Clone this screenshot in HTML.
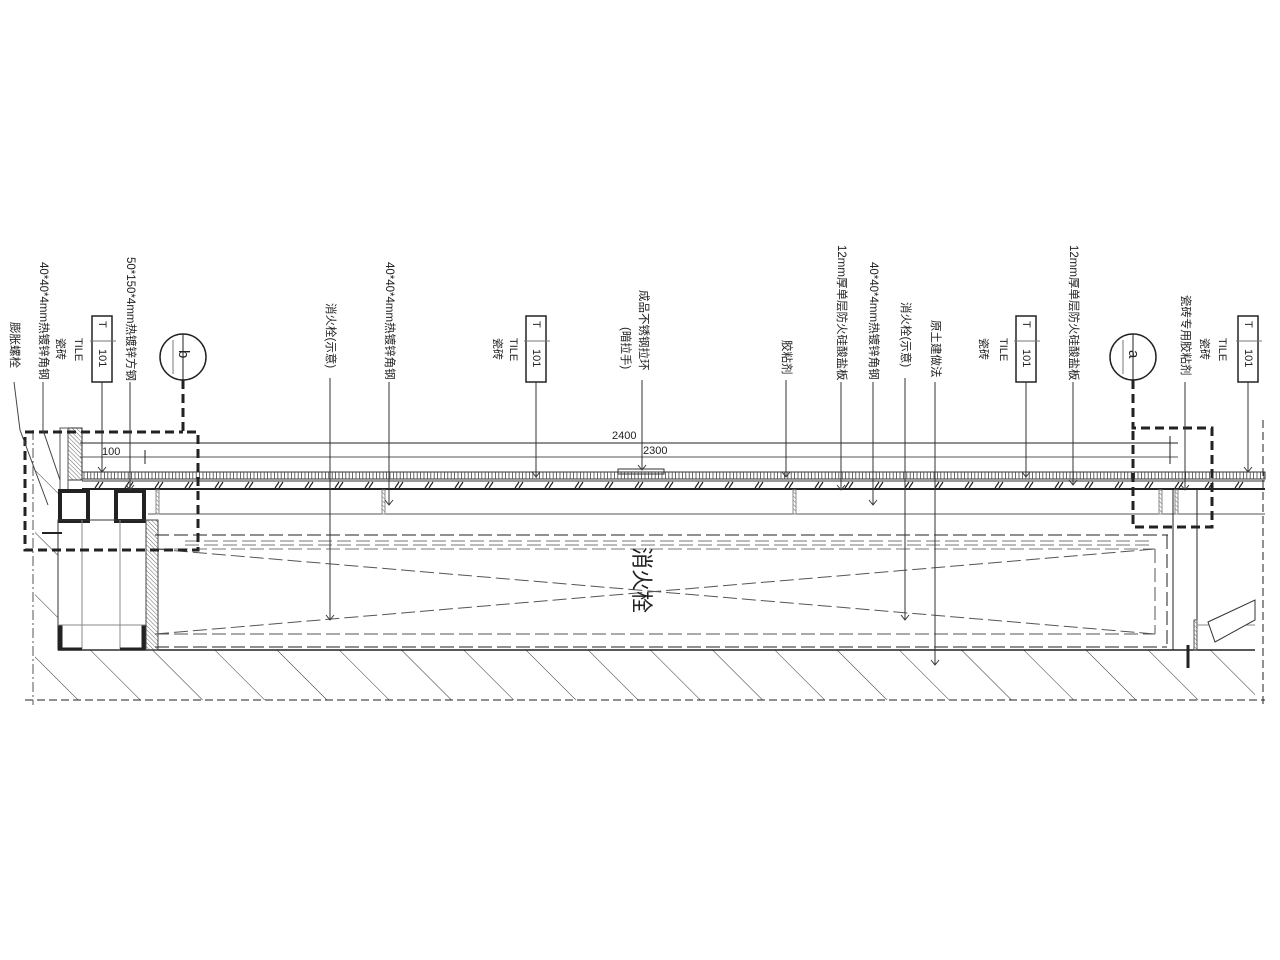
<!DOCTYPE html>
<html><head><meta charset="utf-8">
<style>
html,body{margin:0;padding:0;background:#fff;}
svg{display:block;}
text{font-family:"Liberation Sans","Noto Sans CJK SC",sans-serif;fill:#222;}
</style></head>
<body>
<svg id="s" width="1280" height="960" viewBox="0 0 1280 960" xmlns="http://www.w3.org/2000/svg">
<defs>
<pattern id="hatch" width="44" height="44" patternUnits="userSpaceOnUse" patternTransform="rotate(-45)">
<line x1="0" y1="0" x2="0" y2="44" stroke="#333" stroke-width="1"/>
</pattern>
<pattern id="dense" width="3" height="3" patternUnits="userSpaceOnUse" patternTransform="rotate(-45)">
<line x1="0" y1="0" x2="0" y2="3" stroke="#444" stroke-width="0.8"/>
</pattern>
</defs>
<g id="g" stroke="#222" fill="none" stroke-width="1">
<rect x="58" y="650" width="1197" height="50" fill="url(#hatch)" stroke="none"/>
<line x1="58" y1="650" x2="1255" y2="650" stroke-width="1.5"/>
<line x1="25" y1="700" x2="1265" y2="700" stroke-dasharray="8,4"/>
<rect x="35" y="432" width="23" height="268" fill="url(#hatch)" stroke="none"/>
<line x1="33" y1="430" x2="33" y2="705" stroke-dasharray="10,3,2,3" stroke="#555"/>
<rect x="68" y="428" width="14" height="52" fill="url(#dense)" stroke="#333"/>
<rect x="60" y="428" width="8" height="62" stroke="#555"/>
<rect x="60" y="491" width="28" height="30" stroke-width="4"/>
<rect x="116" y="491" width="28" height="30" stroke-width="4"/>
<rect x="58" y="520" width="88" height="130" stroke="#333"/>
<line x1="82" y1="520" x2="82" y2="650" stroke="#888"/>
<line x1="120" y1="520" x2="120" y2="650" stroke="#888"/>
<line x1="58" y1="625" x2="146" y2="625" stroke="#888"/>
<rect x="58" y="626" width="4" height="22" fill="#222"/>
<rect x="142" y="626" width="4" height="22" fill="#222"/>
<line x1="58" y1="649" x2="82" y2="649" stroke-width="3"/>
<line x1="120" y1="649" x2="146" y2="649" stroke-width="3"/>
<rect x="146" y="520" width="12" height="130" fill="url(#dense)" stroke="#444"/>
<line x1="42" y1="533" x2="62" y2="533" stroke-width="2"/>
<rect x="82" y="472" width="1183" height="7" fill="none" stroke="#333"/>
<g id="ticks" stroke="#444" stroke-width="0.8"></g>
<line x1="82" y1="481" x2="1265" y2="481" stroke="#333"/>
<line x1="82" y1="489" x2="1265" y2="489" stroke-width="2"/>
<g id="hat" stroke="#222" stroke-width="1.2"></g>
<line x1="148" y1="514" x2="1265" y2="514" stroke="#555"/>
<rect x="156" y="490" width="3" height="24" fill="url(#dense)" stroke="#888"/>
<rect x="382" y="490" width="3" height="24" fill="url(#dense)" stroke="#888"/>
<rect x="793" y="490" width="3" height="24" fill="url(#dense)" stroke="#888"/>
<rect x="1159" y="490" width="3" height="24" fill="url(#dense)" stroke="#888"/>
<rect x="1175" y="490" width="3" height="24" fill="url(#dense)" stroke="#888"/>
<rect x="618" y="469" width="46" height="5" stroke="#333"/>
<line x1="155" y1="535" x2="1168" y2="535" stroke-dasharray="14,5"/>
<line x1="185" y1="541" x2="1150" y2="541" stroke="#777" stroke-dasharray="14,5"/>
<line x1="185" y1="545" x2="1150" y2="545" stroke="#777" stroke-dasharray="14,5"/>
<line x1="155" y1="549" x2="1155" y2="549" stroke="#777" stroke-dasharray="14,5"/>
<line x1="1155" y1="549" x2="1155" y2="634" stroke="#555" stroke-dasharray="14,5"/>
<line x1="1167" y1="535" x2="1167" y2="647" stroke-dasharray="14,5"/>
<line x1="155" y1="634" x2="1155" y2="634" stroke="#555" stroke-dasharray="14,5"/>
<line x1="155" y1="647" x2="1167" y2="647" stroke-dasharray="14,5"/>
<line x1="155" y1="549" x2="1155" y2="634" stroke="#555" stroke-dasharray="14,5"/>
<line x1="155" y1="634" x2="1155" y2="549" stroke="#555" stroke-dasharray="14,5"/>
<line x1="1173" y1="490" x2="1173" y2="650"/>
<line x1="1197" y1="490" x2="1197" y2="650"/>
<rect x="1194" y="620" width="3" height="30" fill="url(#dense)" stroke="#555"/>
<line x1="1197" y1="625" x2="1255" y2="625" stroke="#888"/>
<polygon points="1208,622 1255,600 1255,620 1215,642" stroke="#333" fill="#fff"/>
<line x1="1188" y1="645" x2="1188" y2="668" stroke-width="3"/>
<line x1="1263" y1="420" x2="1263" y2="705" stroke-dasharray="8,4"/>
<line x1="80" y1="443" x2="1178" y2="443"/>
<line x1="80" y1="457" x2="1178" y2="457" stroke="#555"/>
<line x1="145" y1="450" x2="145" y2="464"/>
<line x1="1170" y1="436" x2="1170" y2="450"/>
<line x1="1170" y1="450" x2="1170" y2="464"/>
<path d="M183,380 V432 H198 V550 H25 V432 H183" stroke-width="3" stroke-dasharray="9,5"/>
<path d="M1133,380 V428 H1212 V527 H1133 V428" stroke-width="3" stroke-dasharray="9,5"/>
<circle cx="183" cy="357" r="23" stroke-width="1.5"/>
<line x1="183" y1="334" x2="183" y2="380"/>
<line x1="173" y1="340" x2="173" y2="374" stroke="#777"/>
<circle cx="1133" cy="357" r="23" stroke-width="1.5"/>
<line x1="1133" y1="334" x2="1133" y2="380"/>
<line x1="1123" y1="340" x2="1123" y2="374" stroke="#777"/>
<rect x="92" y="316" width="20" height="66" stroke-width="1.5"/><line x1="90" y1="341" x2="116" y2="341" stroke="#777"/>
<rect x="526" y="316" width="20" height="66" stroke-width="1.5"/><line x1="524" y1="341" x2="550" y2="341" stroke="#777"/>
<rect x="1016" y="316" width="20" height="66" stroke-width="1.5"/><line x1="1014" y1="341" x2="1040" y2="341" stroke="#777"/>
<rect x="1238" y="316" width="20" height="66" stroke-width="1.5"/><line x1="1236" y1="341" x2="1262" y2="341" stroke="#777"/>
<g id="lead"></g>
<path d="M14,382 L20,430 L48,505" stroke="#444"/>
<path d="M43,382 L43,430 L60,480" stroke="#444"/>
</g>
<g id="txt" font-size="11"></g>
<text x="102" y="455" font-size="11">100</text>
<text x="612" y="439" font-size="11">2400</text>
<text x="643" y="454" font-size="11">2300</text>
<text x="640" y="580" font-size="22" transform="rotate(90 640 580)" text-anchor="middle" dominant-baseline="middle">消火栓</text>
</svg>
<script>
var NS="http://www.w3.org/2000/svg";
function el(p,t,a){var e=document.createElementNS(NS,t);for(var k in a)e.setAttribute(k,a[k]);p.appendChild(e);return e;}
var tk=document.getElementById('ticks');
for(var x=84;x<1265;x+=3.4){el(tk,'line',{x1:x,y1:472,x2:x,y2:479});}
var h=document.getElementById('hat');
for(var x=95;x<1262;x+=30){el(h,'line',{x1:x,y1:488,x2:x+4,y2:482});el(h,'line',{x1:x+4,y1:488,x2:x+8,y2:482});}
var L=document.getElementById('lead');
[[102,382,472],[130,382,490],[330,378,620],[389,382,505],[536,382,477],[642,380,470],[786,380,477],[841,382,490],[873,382,505],[905,378,620],[935,382,665],[1026,382,477],[1073,382,485],[1185,382,490],[1248,382,472]].forEach(function(a){
 el(L,'line',{x1:a[0],y1:a[1],x2:a[0],y2:a[2],stroke:'#333'});
 el(L,'path',{d:'M'+(a[0]-4)+','+(a[2]-5)+' L'+a[0]+','+a[2]+' L'+(a[0]+4)+','+(a[2]-5),stroke:'#333'});
});
var T=document.getElementById('txt');
[[14,322,'膨胀螺栓',11.5],[43,262,'40*40*4mm热镀锌角钢',11.5],[60,338,'瓷砖',11],[78,338,'TILE',11],
[130,257,'50*150*4mm热镀锌方钢',11.5],[330,303,'消火栓(示意)',11.5],[389,262,'40*40*4mm热镀锌角钢',11.5],
[497,338,'瓷砖',11],[513,338,'TILE',11],[643,290,'成品不锈钢拉环',11.5],[625,327,'(暗拉手)',11.5],
[786,340,'胶粘剂',11.5],[841,245,'12mm厚单层防火硅酸盐板',11.5],[873,262,'40*40*4mm热镀锌角钢',11.5],
[905,302,'消火栓(示意)',11.5],[935,320,'原土建做法',11.5],[983,338,'瓷砖',11],[1003,338,'TILE',11],
[1073,245,'12mm厚单层防火硅酸盐板',11.5],[1185,295,'瓷砖专用胶粘剂',11.5],[1204,338,'瓷砖',11],[1222,338,'TILE',11],
[102,321,'T',11],[102,349,'101',11],[536,321,'T',11],[536,349,'101',11],[1026,321,'T',11],[1026,349,'101',11],[1248,321,'T',11],[1248,349,'101',11],
[183,350,'b',15],[1133,350,'a',15]].forEach(function(a){
 var t=el(T,'text',{x:0,y:0,'font-size':a[3],'dominant-baseline':'middle'});
 t.setAttribute('transform','translate('+a[0]+','+a[1]+') rotate(90)');
 t.textContent=a[2];
});
</script>
</body></html>
